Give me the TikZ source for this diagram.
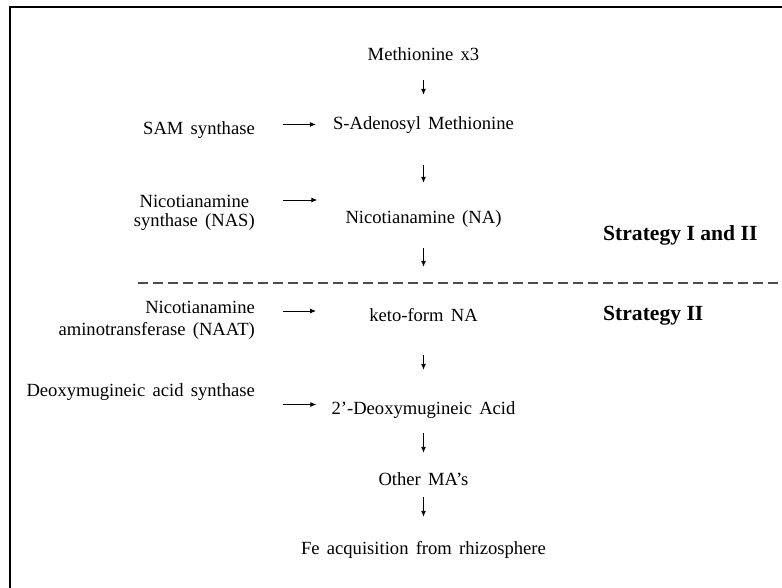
\documentclass[tikz,border=0pt]{standalone}
\usepackage{fontspec}
\setmainfont{Liberation Serif}[WordSpace=1.55, BoldFeatures={WordSpace=1.0}]
\usetikzlibrary{arrows.meta}

\begin{document}
\begin{tikzpicture}[x=1pt,y=-1pt, every node/.style={font=\fontsize{18.6}{20}\selectfont, inner sep=0pt},
  chem/.style={text height=13pt, text depth=4pt, anchor=base},
  enz/.style={anchor=base east},
  strat/.style={anchor=base west, font=\fontsize{21.6}{24}\selectfont\bfseries},
  flow/.style={-{Latex[length=6pt,width=5pt]}, line width=0.9pt}]

    \useasboundingbox (0,0) rectangle (782,588);
    \draw[line width=2pt] (10,588) -- (10,7) -- (782,7);

    \node[chem] (met)   at (423.5,61)  {Methionine x3};
    \node[chem] (sam)   at (423.5,130) {S-Adenosyl Methionine};
    \node[chem] (na)    at (423.5,224) {Nicotianamine (NA)};
    \node[chem] (keto)  at (423.5,321) {keto-form NA};
    \node[chem] (dma)   at (423.5,414) {2’-Deoxymugineic Acid};
    \node[chem] (other) at (423.5,485) {Other MA’s};
    \node[chem] (fe)    at (423.5,554) {Fe acquisition from rhizosphere};

    \foreach \a/\b/\s/\t in {met/sam/15/22, sam/na/31/28, na/keto/20/41,
                             keto/dma/30/31, dma/other/15/19, other/fe/8/24}
    \draw[flow, shorten <=\s pt, shorten >=\t pt] (\a.south) -- (\b.north);

    \node[enz] (samenz) at (255,135) {SAM synthase};
    \node[anchor=north east, align=center, font=\fontsize{18.6}{19}\selectfont]
  (nasenz) at (255,194.5) {Nicotianamine\\synthase (NAS)};
    \node[anchor=north east, align=right, font=\fontsize{18.6}{22}\selectfont]
  (naatenz) at (255,300.5) {Nicotianamine\\aminotransferase (NAAT)};
    \node[enz] (dmasenz) at (255,396) {Deoxymugineic acid synthase};

    \foreach \e/\p/\dy/\sh in {samenz/sam/-2.6/17, nasenz/na/-5.5/28,
                               naatenz/keto/-10.5/53, dmasenz/dma/-21.6/15}{
      \coordinate (\e-out) at ([yshift=\dy pt]\e.north east);
      \draw[flow, shorten <=28pt, shorten >=\sh pt] (\e-out) -- (\e-out -| \p.west);
    }

    \draw[gray!60!black, line width=1.1pt, dash pattern=on 10pt off 5pt] (138,283) -- (782,283);

    \node[strat] (both) at (603,241) {Strategy I and II};
    \node[strat] (two)  at (603,320) {Strategy II};

\end{tikzpicture}
\end{document}
